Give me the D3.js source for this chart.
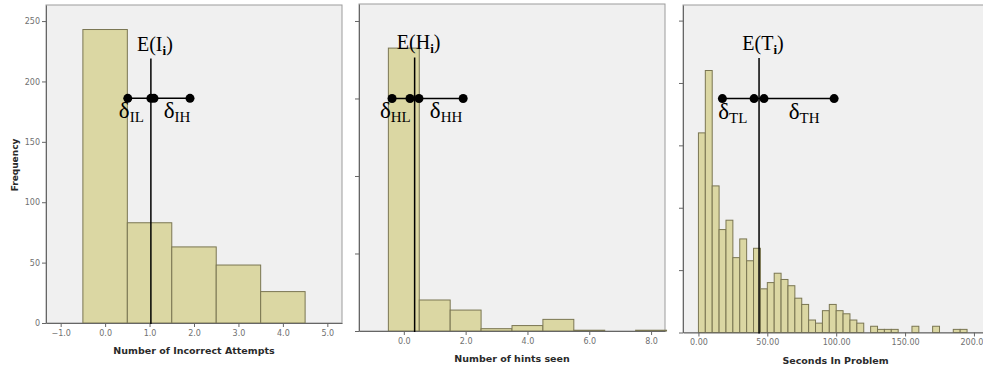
<!DOCTYPE html>
<meta charset="utf-8">
<script src="https://d3js.org/d3.v7.min.js"></script>
<style>
body { margin: 0; background: #fff; }
.frame { fill: #f0f0f0; stroke: #9c9c9c; stroke-width: 1px; }
.bar { fill: #dbd7a3; stroke: #7a7652; stroke-width: 1px; }
.axis path, .axis line { stroke: #666; }
.axis text { fill: #707070; font: 8px "DejaVu Sans", sans-serif; }
.title { fill: #2a2a2a; font: bold 9.5px "DejaVu Sans", sans-serif; }
.mean, .spread { stroke: #000; stroke-width: 1.5px; }
.dot { fill: #000; }
.note { fill: #000; font-family: "Liberation Serif", serif; font-size: 20px; }
</style>
<body>
<script>

// histogram counts
var attemptBins = [0, 1, 2, 3, 4];
var attemptCounts = [243, 83, 63, 48, 26];

var hintBins = [0, 1, 2, 3, 4, 5, 6, 7, 8];
var hintCounts = [365, 40, 27, 3, 7, 15, 1, 0, 1];

var secondBins = [0, 5, 10, 15, 20, 25, 30, 35, 40, 45, 50, 55, 60, 65, 70, 75, 80, 85, 90, 95,
                  100, 105, 110, 115, 120, 125, 130, 135, 140, 145, 150, 155, 160, 165, 170, 175, 180, 185, 190];
var secondCounts = [64, 84, 47, 33, 36, 24, 30, 23, 27, 14, 16, 19, 17, 15, 11, 9, 4, 3, 7, 9,
                    7, 6, 4, 3, 0, 2, 1, 1, 1, 0, 0, 2, 0, 0, 2, 0, 0, 1, 1];

// tick labels
var attemptTicks = [-1, 0, 1, 2, 3, 4, 5];
var hintTicks = [0, 2, 4, 6, 8];
var secondTicks = [0, 50, 100, 150, 200];
var attemptYTicks = [0, 50, 100, 150, 200, 250];
var hintYTicks = [0, 100, 200, 300, 400];
var secondYTicks = [0, 20, 40, 60, 80, 100];

// expectation line + spread markers (x in data units, y in frequency)
var meanValues = [1.03, 0.35, 44.0];
var meanTops = [219, 353, 88];
var spreadLevels = [186, 300, 75];
var spreadDots = [[0.51, 1.03, 1.10, 1.91], [-0.38, 0.20, 0.49, 1.92], [17.4, 40.4, 47.6, 98.5]];
var meanSymbols = ["I", "H", "T"];

var panels = [
  {bins: attemptBins, counts: attemptCounts, binWidth: 1, align: "center",
   xDomain: [-1.33, 5.33], yDomain: [0, 263.3], xTicks: attemptTicks, xFormat: d3.format(".1f"),
   yTicks: attemptYTicks, yLabels: true, box: [46, 342, 5, 323], title: "Number of Incorrect Attempts"},
  {bins: hintBins, counts: hintCounts, binWidth: 1, align: "center",
   xDomain: [-1.45, 8.45], yDomain: [0, 421.9], xTicks: hintTicks, xFormat: d3.format(".1f"),
   yTicks: hintYTicks, yLabels: false, box: [359, 665, 4, 331], title: "Number of hints seen"},
  {bins: secondBins, counts: secondCounts, binWidth: 5, align: "left",
   xDomain: [-11.2, 210.2], yDomain: [0, 105], xTicks: secondTicks, xFormat: d3.format(".2f"),
   yTicks: secondYTicks, yLabels: false, box: [683, 988, 5, 332.5], title: "Seconds In Problem"}
];

var width = 983, height = 373;

var svg = d3.select("body").append("svg")
    .attr("width", width)
    .attr("height", height);

panels.forEach(function(p, i) {
  var x0 = p.box[0], x1 = p.box[1], y0 = p.box[2], y1 = p.box[3];

  var x = d3.scaleLinear().domain(p.xDomain).range([x0, x1]);
  var y = d3.scaleLinear().domain(p.yDomain).range([y1, y0]);

  var g = svg.append("g");

  g.append("rect")
      .attr("class", "frame")
      .attr("x", x0)
      .attr("y", y0)
      .attr("width", x1 - x0)
      .attr("height", y1 - y0);

  var shift = p.align == "center" ? p.binWidth / 2 : 0;

  g.append("g")
    .selectAll("rect")
    .data(p.bins.filter(function(b, j) { return p.counts[j] > 0; }))
    .enter()
    .append("rect")
      .attr("class", "bar")
      .attr("x", function(b) { return x(b - shift); })
      .attr("width", function(b) { return x(b - shift + p.binWidth) - x(b - shift); })
      .attr("y", function(b) { return y(p.counts[p.bins.indexOf(b)]); })
      .attr("height", function(b) { return y(0) - y(p.counts[p.bins.indexOf(b)]); });

  g.append("g")
      .attr("class", "axis")
      .attr("transform", "translate(0," + y1 + ")")
      .call(d3.axisBottom(x).tickValues(p.xTicks).tickFormat(p.xFormat)
            .tickSize(4).tickSizeOuter(0).tickPadding(3));

  g.append("g")
      .attr("class", "axis")
      .attr("transform", "translate(" + x0 + ",0)")
      .call(d3.axisLeft(y).tickValues(p.yTicks)
            .tickFormat(p.yLabels ? d3.format("d") : "")
            .tickSize(4).tickSizeOuter(0).tickPadding(2));

  g.append("text")
      .attr("class", "title")
      .attr("x", (x0 + x1) / 2)
      .attr("y", y1 + 31)
      .attr("text-anchor", "middle")
      .text(p.title);

  // expectation line
  var mx = x(meanValues[i]);
  g.append("line")
      .attr("class", "mean")
      .attr("x1", mx).attr("x2", mx)
      .attr("y1", y(meanTops[i]))
      .attr("y2", y(0) + 1);

  var e = g.append("text")
      .attr("class", "note")
      .attr("x", mx + 4)
      .attr("y", y(meanTops[i]) - 8)
      .attr("text-anchor", "middle");
  e.append("tspan").text("E(" + meanSymbols[i]);
  e.append("tspan").attr("dy", 4).style("font-size", "13px").style("font-weight", "bold").text("i");
  e.append("tspan").attr("dy", -4).text(")");

  // spread markers
  var dots = spreadDots[i];
  var ly = y(spreadLevels[i]);
  g.append("line")
      .attr("class", "spread")
      .attr("x1", x(dots[0])).attr("x2", x(dots[3]))
      .attr("y1", ly).attr("y2", ly);

  g.append("g")
    .selectAll("circle")
    .data(dots)
    .enter()
    .append("circle")
      .attr("class", "dot")
      .attr("cx", function(d) { return x(d); })
      .attr("cy", ly)
      .attr("r", 4.5);

  var lowX = (x(dots[0]) + mx) / 2 - 8;
  var highX = (x(dots[2]) + x(dots[3])) / 2 + 5;
  [[lowX, "L"], [highX, "H"]].forEach(function(s) {
    var t = g.append("text")
        .attr("class", "note")
        .attr("x", s[0])
        .attr("y", ly + 20)
        .attr("text-anchor", "middle");
    t.append("tspan").style("font-size", "23px").text("δ");
    t.append("tspan").attr("dy", 4).style("font-size", "15px").text(meanSymbols[i] + s[1]);
  });
});

svg.append("text")
    .attr("class", "title")
    .attr("transform", "translate(18,165) rotate(-90)")
    .attr("text-anchor", "middle")
    .style("font-size", "9px")
    .text("Frequency");

</script>
</body>
